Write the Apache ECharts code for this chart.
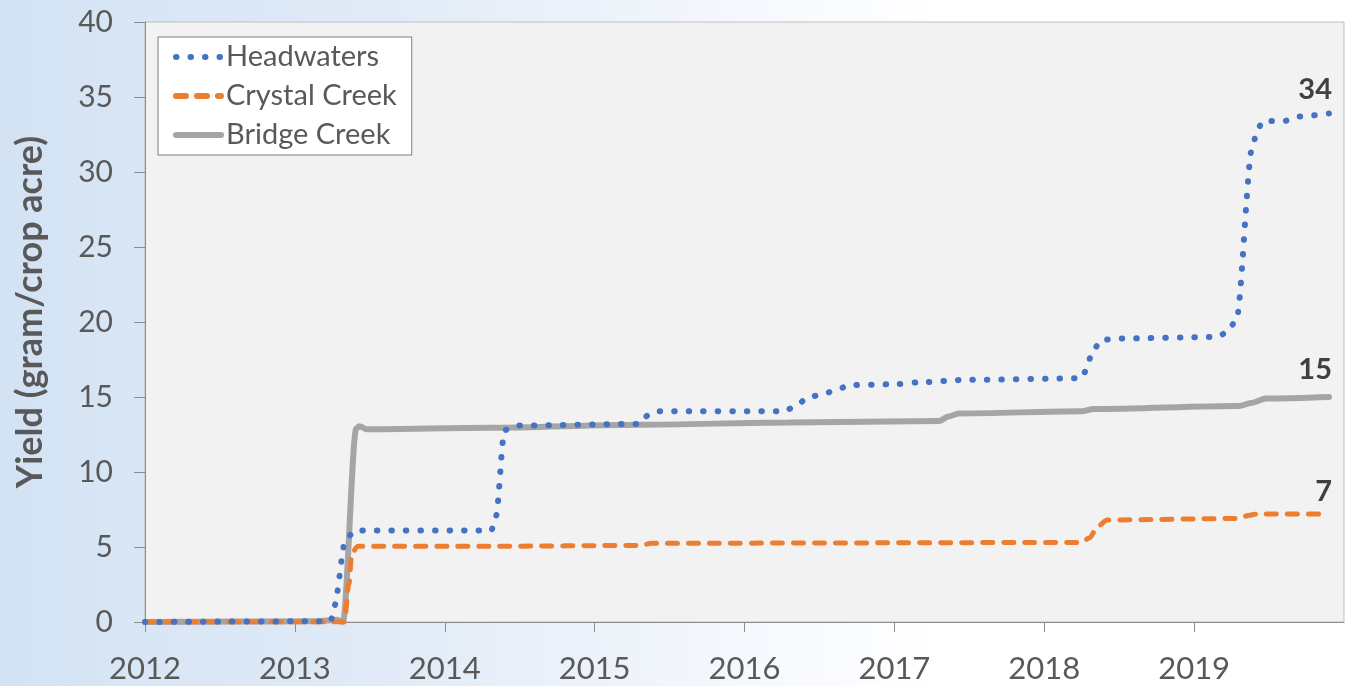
<!DOCTYPE html>
<html lang="en">

<head>
    <meta charset="UTF-8">
    <title>Yield chart</title>
    <script src="https://cdn.jsdelivr.net/npm/echarts@6/dist/echarts.min.js"></script>
    <style>
        body { margin: 0; }
    </style>
</head>

<body>
    <div id="main" style="width: 1346px;height:686px;"></div>
    <script type="text/javascript">
        // values (x = decimal year, y = yield)
        const headwatersYears = [2012, 2013.24, 2013.26, 2013.34, 2013.40, 2014.31, 2014.34, 2014.40, 2014.48,
            2015.30, 2015.36, 2015.42, 2016.27, 2016.35, 2016.43, 2016.53, 2016.61, 2016.71, 2017.0, 2017.2,
            2017.5, 2018.25, 2018.28, 2018.32, 2018.38, 2018.5, 2019.15, 2019.22, 2019.28, 2019.39, 2019.42,
            2019.46, 2019.60, 2019.70, 2019.90];
        const headwatersValues = [0, 0.05, 1.0, 5.5, 6.1, 6.1, 7.0, 12.8, 13.1,
            13.2, 13.8, 14.05, 14.05, 14.5, 15.0, 15.2, 15.5, 15.8, 15.85, 16.0,
            16.15, 16.25, 16.8, 18.0, 18.8, 18.9, 19.0, 19.3, 20.1, 31.7, 32.8,
            33.4, 33.4, 33.7, 33.9];

        const crystalYears = [2012, 2013.33, 2013.36, 2013.38, 2013.42, 2014.3, 2015.3, 2015.38, 2018.25,
            2018.30, 2018.36, 2018.42, 2019.3, 2019.36, 2019.42, 2019.90];
        const crystalValues = [0, 0, 2.5, 4.6, 5.05, 5.05, 5.1, 5.25, 5.3,
            5.6, 6.4, 6.8, 6.9, 7.1, 7.2, 7.2];

        const bridgeYears = [2012, 2013.15, 2013.28, 2013.32, 2013.41, 2013.43, 2013.48, 2014.3, 2015.3,
            2016.3, 2017.3, 2017.36, 2017.43, 2018.25, 2018.33, 2019.3, 2019.38, 2019.48, 2019.9];
        const bridgeValues = [0, 0.05, 0.15, 0, 12.9, 13.05, 12.85, 12.95, 13.15,
            13.3, 13.4, 13.7, 13.9, 14.05, 14.2, 14.4, 14.6, 14.9, 15.0];

        const seriesNames = ['Headwaters', 'Crystal Creek', 'Bridge Creek'];
        const endLabels = ['34', '7', '15'];

        function pairs(years, values) {
            return years.map((yr, i) => [yr, values[i]]);
        }

        // bold number written just above the end of each line
        function endLabel(text, lift) {
            return {
                show: true, formatter: text, distance: 0, align: 'right', verticalAlign: 'bottom',
                offset: [3, -lift], fontFamily: 'Lato', fontWeight: 'bold', fontSize: 29, color: '#404040'
            };
        }

        let options = {
            backgroundColor: new echarts.graphic.LinearGradient(0, 0, 1, 0, [
                { offset: 0, color: '#d3e3f4' },
                { offset: 0.3, color: '#e2ebf7' },
                { offset: 0.55, color: '#f5f8fd' },
                { offset: 0.7, color: '#ffffff' },
                { offset: 1, color: '#ffffff' }
            ]),
            animation: false,
            textStyle: { fontFamily: 'Lato' },
            grid: {
                left: 145, right: 2, top: 22, bottom: 64,
                show: true, backgroundColor: '#f2f2f2', borderColor: '#bfbfbf', borderWidth: 1
            },
            legend: {
                orient: 'vertical', left: 158, top: 37,
                padding: [5, 15, 5, 15], itemGap: 9, itemWidth: 45, itemHeight: 14,
                backgroundColor: '#ffffff', borderColor: '#7f7f7f', borderWidth: 1,
                itemStyle: { opacity: 0 },
                lineStyle: { width: 6 },
                textStyle: { fontSize: 29, lineHeight: 30, color: '#595959', fontFamily: 'Lato' },
                data: seriesNames
            },
            xAxis: {
                type: 'value', min: 2012, max: 2020, interval: 1,
                axisLine: { lineStyle: { color: '#8c8c8c', width: 1 } },
                axisTick: { show: true, length: 10, lineStyle: { color: '#8c8c8c' } },
                axisLabel: {
                    fontSize: 31, color: '#595959', margin: 31, showMaxLabel: false,
                    formatter: (v) => String(v)
                },
                splitLine: { show: false }
            },
            yAxis: {
                type: 'value', min: 0, max: 40, interval: 5,
                name: 'Yield (gram/crop acre)', nameLocation: 'middle', nameGap: 97,
                nameTextStyle: {
                    fontSize: 36, fontWeight: 'bold', color: '#595959', fontFamily: 'Lato',
                    padding: [0, 0, 0, 20]
                },
                axisLine: { show: true, lineStyle: { color: '#8c8c8c', width: 1 } },
                axisTick: { show: true, length: 11, lineStyle: { color: '#8c8c8c' } },
                axisLabel: { fontSize: 30, color: '#595959', margin: 32 },
                splitLine: { show: false }
            },
            series: [
                {
                    name: seriesNames[0], type: 'line', symbol: 'none',
                    smooth: 0.3, smoothMonotone: 'x', z: 4,
                    lineStyle: { color: '#4472c4', width: 6, type: [0.5, 14], cap: 'round' },
                    itemStyle: { color: '#4472c4' },
                    endLabel: endLabel(endLabels[0], 9),
                    data: pairs(headwatersYears, headwatersValues)
                },
                {
                    name: seriesNames[1], type: 'line', symbol: 'none',
                    smooth: 0.3, smoothMonotone: 'x', z: 3,
                    lineStyle: { color: '#ed7d31', width: 5, type: [10, 11], cap: 'round' },
                    itemStyle: { color: '#ed7d31' },
                    endLabel: endLabel(endLabels[1], 8),
                    data: pairs(crystalYears, crystalValues)
                },
                {
                    name: seriesNames[2], type: 'line', symbol: 'none',
                    smooth: 0.3, smoothMonotone: 'x', z: 2,
                    lineStyle: { color: '#a5a5a5', width: 6, cap: 'round' },
                    itemStyle: { color: '#a5a5a5' },
                    endLabel: endLabel(endLabels[2], 13),
                    data: pairs(bridgeYears, bridgeValues)
                }
            ]
        };

        let myChart = echarts.init(document.getElementById('main'));
        myChart.setOption(options);
    </script>
</body>

</html>
